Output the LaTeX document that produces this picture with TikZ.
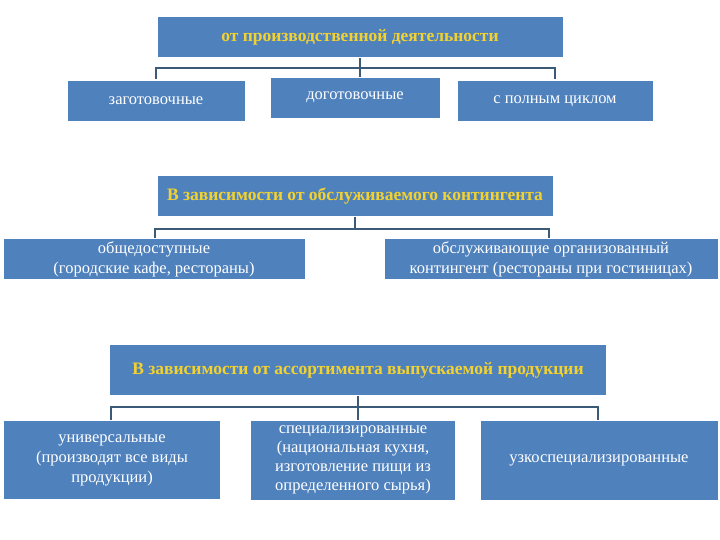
\documentclass[tikz,border=0pt]{standalone}
\usepackage{fontspec}
\setmainfont{Liberation Serif}
\begin{document}
\begin{tikzpicture}[x=1pt,y=-1pt,
 box/.style={fill=bb,draw=white,line width=0.6pt,text=white,font=\fontsize{16.5}{20}\selectfont,align=center,inner sep=0pt},
 head/.style={box,text=gold,font=\bfseries\fontsize{17.5}{20}\selectfont},
 con/.style={draw=cc,line width=1.6pt}]
\definecolor{bb}{HTML}{4F81BD}
\definecolor{gold}{HTML}{F2D230}
\definecolor{cc}{HTML}{3A5A78}
\useasboundingbox (0,0) rectangle (720,540);
% level 1
\node[head,minimum width=406,minimum height=41] (h1) at (360,37) {от производственной деятельности};
\node[box,minimum width=178,minimum height=41] (a1) at (156,101) {заготовочные};
\node[box,minimum width=170,minimum height=41] (a2) at (355,98) {\raisebox{4pt}{доготовочные}};
\node[box,minimum width=196,minimum height=41] (a3) at (555,101) {\raisebox{-2pt}{с полным циклом}};
\coordinate (j1) at (h1.south |- 0,68);
\draw[con] (h1.south) -- (j1);
\draw[con] (156,79) |- (j1) -| (555,79);
\draw[con] (j1) -- (j1 |- a2.north);
% level 2
\node[head,minimum width=396,minimum height=41] (h2) at (355,196) {В зависимости от обслуживаемого контингента};
\node[box,minimum width=302,minimum height=41] (b1) at (154,259) {общедоступные\\(городские кафе, рестораны)};
\node[box,minimum width=334,minimum height=41] (b2) at (551,259) {обслуживающие организованный\\контингент (рестораны при гостиницах)};
\coordinate (j2) at (h2.south |- 0,229);
\draw[con] (h2.south) -- (j2);
\draw[con] (155,238) |- (j2) -| (549,238);
% level 3
\node[head,minimum width=497,minimum height=51] (h3) at (358,370) {В зависимости от ассортимента выпускаемой продукции};
\node[box,minimum width=217,minimum height=79] (c1) at (112,460) {универсальные\\(производят все виды\\продукции)};
\node[box,minimum width=205,minimum height=80,font=\fontsize{16.5}{19}\selectfont] (c2) at (353,460) {специализированные\\(национальная кухня,\\изготовление пищи из\\определенного сырья)};
\node[box,minimum width=238,minimum height=80] (c3) at (599,460) {узкоспециализированные};
\coordinate (j3) at (h3.south |- 0,407);
\draw[con] (h3.south) -- (j3);
\draw[con] (111,420) |- (j3) -| (598,420);
\draw[con] (j3) -- (j3 |- c2.north);
\end{tikzpicture}
\end{document}
